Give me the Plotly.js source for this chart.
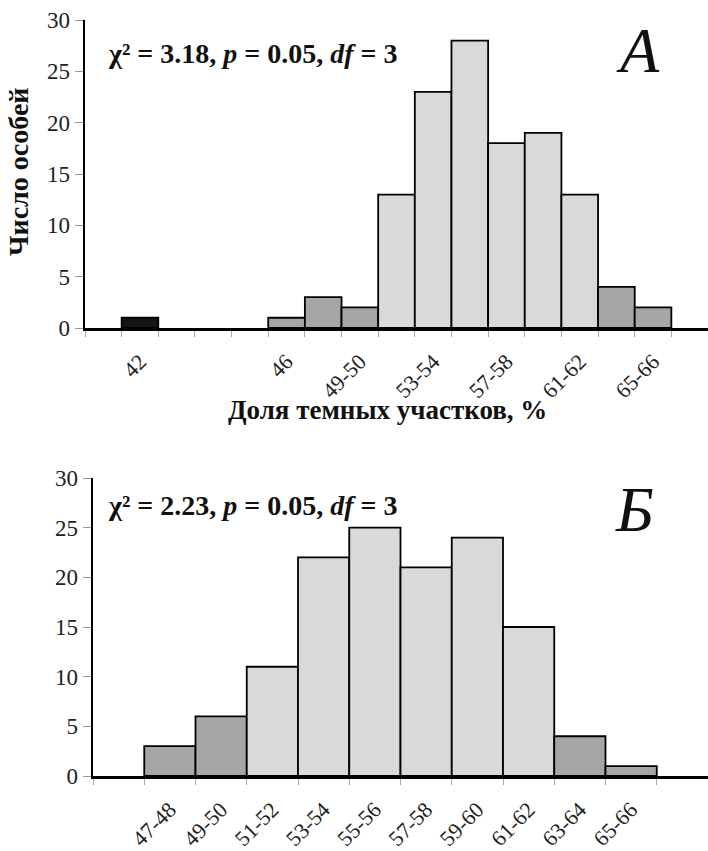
<!DOCTYPE html>
<html>
<head>
<meta charset="utf-8">
<script src="https://cdn.plot.ly/plotly-3.0.1.min.js"></script>
<style>html,body{margin:0;padding:0;background:#fff;}#chart{width:708px;height:851px;}</style>
</head>
<body>
<div id="chart"></div>
<script>
// ---- Data ----
var topCategories = ["42","43","44","45","46","47-48","49-50","51-52","53-54","55-56","57-58","59-60","61-62","63-64","65-66"];
var topCounts     = [1, 0, 0, 0, 1, 3, 2, 13, 23, 28, 18, 19, 13, 4, 2];
var topTickLabels = ["42","46","49-50","53-54","57-58","61-62","65-66"];

var botCategories = ["47-48","49-50","51-52","53-54","55-56","57-58","59-60","61-62","63-64","65-66"];
var botCounts     = [3, 6, 11, 22, 25, 21, 24, 15, 4, 1];
var botTickLabels = botCategories;

var yTicks = [0, 5, 10, 15, 20, 25, 30];

var topStat = "χ² = 3.18, <i>p</i> = 0.05, <i>df</i> = 3";
var botStat = "χ² = 2.23, <i>p</i> = 0.05, <i>df</i> = 3";
var yTitle = "Число особей";
var xTitle = "Доля темных участков, %";

// ---- Styles ----
var LIGHT = "#d9d9d9", DARK = "#a6a6a6", BLACK = "#141414";
var topColors = [BLACK, LIGHT, LIGHT, LIGHT, DARK, DARK, DARK, LIGHT, LIGHT, LIGHT, LIGHT, LIGHT, LIGHT, DARK, DARK];
var botColors = [DARK, DARK, LIGHT, LIGHT, LIGHT, LIGHT, LIGHT, LIGHT, DARK, DARK];
var serif = "Liberation Serif";

var W = 708, H = 851;
function fx(px){ return px / W; }
function fy(px){ return 1 - px / H; }

var topX = topCategories.map(function(c, i){ return i + 1; });
var botX = botCategories.map(function(c, i){ return i + 1; });
var topY = topCounts.map(function(v){ return v === 0 ? null : v; });
var topTickVals = topTickLabels.map(function(l){ return topCategories.indexOf(l) + 1; });
var botTickVals = botTickLabels.map(function(l){ return botCategories.indexOf(l) + 1; });

var traces = [
  {type: "bar", x: topX, y: topY, xaxis: "x", yaxis: "y",
   marker: {color: topColors, line: {color: "#000", width: 1.8}}, hoverinfo: "skip"},
  {type: "bar", x: botX, y: botCounts, xaxis: "x2", yaxis: "y2",
   marker: {color: botColors, line: {color: "#000", width: 1.8}}, hoverinfo: "skip"}
];

function xAxis(domain, range, tv, tt){
  return {
    domain: domain, range: range, tickmode: "array", tickvals: tv, ticktext: tt,
    tickangle: -45, ticks: "", showgrid: false, zeroline: false,
    showline: true, linecolor: "#000", linewidth: 3,
    ticklabelstandoff: 9,
    tickfont: {family: serif, size: 22, color: "#222"},
    minor: {ticks: "outside", ticklen: 6, tickcolor: "#aaa", tickwidth: 1, tick0: 0.5, dtick: 1, showgrid: false},
    fixedrange: true
  };
}
function yAxis(domain, anchor){
  return {
    domain: domain, anchor: anchor, range: [0, 30], tickmode: "array", tickvals: yTicks,
    ticks: "outside", ticklen: 8, tickcolor: "#999", tickwidth: 1,
    showgrid: false, zeroline: false, showline: true, linecolor: "#000", linewidth: 2.5,
    tickfont: {family: serif, size: 23, color: "#222"}, fixedrange: true
  };
}

var layout = {
  width: W, height: H, margin: {l: 0, r: 0, t: 0, b: 0},
  paper_bgcolor: "#fff", plot_bgcolor: "#fff", showlegend: false,
  bargap: 0,
  font: {family: serif},
  xaxis: Object.assign(xAxis([fx(85), 1], [-0.5, 16.5], topTickVals, topTickLabels), {anchor: "y"}),
  yaxis: yAxis([fy(328), fy(20)], "x"),
  xaxis2: Object.assign(xAxis([fx(93), 1], [-0.5, 11.5], botTickVals, botTickLabels), {anchor: "y2"}),
  yaxis2: yAxis([fy(776), fy(478)], "x2"),
  annotations: [
    {xref: "paper", yref: "paper", x: fx(106), y: fy(53), xanchor: "left", yanchor: "middle",
     text: "<b>" + topStat + "</b>", showarrow: false, font: {family: serif, size: 28, color: "#111"}},
    {xref: "paper", yref: "paper", x: fx(106), y: fy(505), xanchor: "left", yanchor: "middle",
     text: "<b>" + botStat + "</b>", showarrow: false, font: {family: serif, size: 28, color: "#111"}},
    {xref: "paper", yref: "paper", x: fx(638), y: fy(50), xanchor: "center", yanchor: "middle",
     text: "<i>А</i>", showarrow: false, font: {family: serif, size: 64, color: "#111"}},
    {xref: "paper", yref: "paper", x: fx(634), y: fy(510), xanchor: "center", yanchor: "middle",
     text: "<i>Б</i>", showarrow: false, font: {family: serif, size: 64, color: "#111"}},
    {xref: "paper", yref: "paper", x: fx(18), y: fy(172), xanchor: "center", yanchor: "middle",
     text: "<b>" + yTitle + "</b>", textangle: -90, showarrow: false, font: {family: serif, size: 28, color: "#111"}},
    {xref: "paper", yref: "paper", x: fx(388), y: fy(410), xanchor: "center", yanchor: "middle",
     text: "<b>" + xTitle + "</b>", showarrow: false, font: {family: serif, size: 27, color: "#111"}}
  ]
};

Plotly.newPlot("chart", traces, layout, {staticPlot: true, displayModeBar: false});
</script>
</body>
</html>
